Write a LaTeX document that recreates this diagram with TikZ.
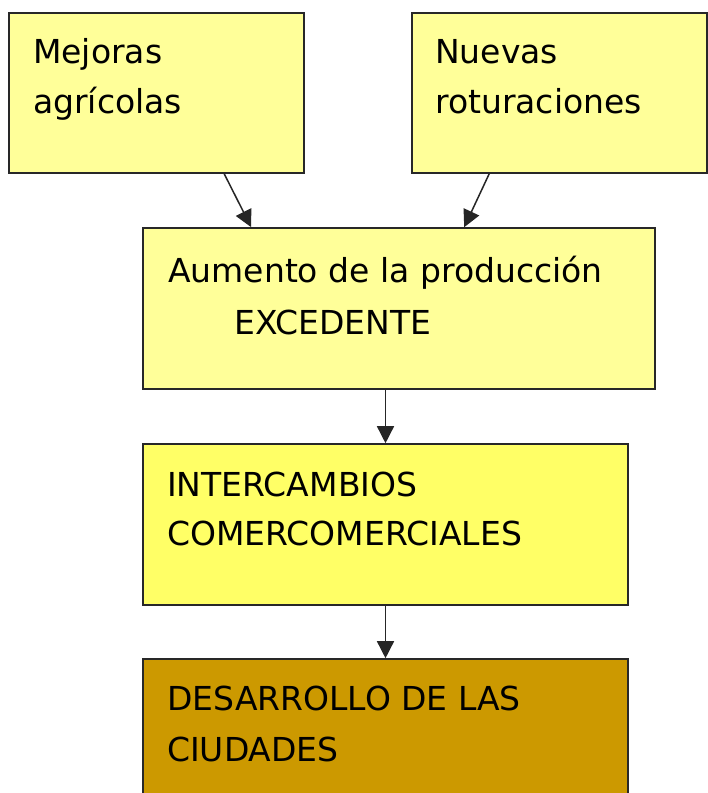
\documentclass[tikz,border=0pt]{standalone}
\usepackage{fontspec}
\setmainfont{DejaVu Sans}
\usetikzlibrary{arrows.meta,calc}
\definecolor{paleyellow}{RGB}{255,255,153}
\definecolor{brightyellow}{RGB}{255,255,102}
\definecolor{ochre}{RGB}{204,153,0}
\definecolor{edge}{RGB}{40,40,40}
\tikzset{
  box/.style={draw=edge, line width=1.6pt, rectangle, inner sep=0pt},
  txt/.style={anchor=base west, inner sep=0pt, font=\fontsize{33}{40}\selectfont, text=black},
  arr/.style={draw=black!85, line width=1.5pt, -{Triangle[length=17pt,width=17pt]}}
}
\begin{document}
\begin{tikzpicture}[x=1pt,y=-1pt]
\useasboundingbox (0,0) rectangle (708,793);
\fill[white] (0,0) rectangle (708,793);
\clip (0,0) rectangle (708,793);
\node[box, fill=paleyellow, minimum width=295pt, minimum height=160pt] (b1) at (156.5,93) {};
\node[box, fill=paleyellow, minimum width=295pt, minimum height=160pt] (b2) at (559.5,93) {};
\node[box, fill=paleyellow, minimum width=512pt, minimum height=161pt] (b3) at (399,308.5) {};
\node[box, fill=brightyellow, minimum width=485pt, minimum height=161pt] (b4) at (385.5,524.5) {};
\node[box, fill=ochre, minimum width=485pt, minimum height=161pt] (b5) at (385.5,739.5) {};

\node[txt] (t1a) at (33,63) {Mejoras};
\node[txt] (t1b) at (33,113) {agrícolas};
\node[txt] (t2a) at (435,63) {Nuevas};
\node[txt] (t2b) at (435,113) {roturaciones};
\node[txt] (t3a) at (168,282) {Aumento de la producción};
\node[txt] (t3b) at (234,334) {EXCEDENTE};
\node[txt] (t4a) at (167,496) {INTERCAMBIOS};
\node[txt] (t4b) at (167,545) {COMERCOMERCIALES};
\node[txt] (t5a) at (167,710) {DESARROLLO DE LAS};
\node[txt] (t5b) at (167,761) {CIUDADES};

\draw[arr] ($(b1.south west)+(216,0)$) -- ($(b3.north west)+(109,0)$);
\draw[arr] ($(b2.south west)+(78,0)$) -- ($(b3.north west)+(322,0)$);
\draw[arr] (b4.north |- b3.south) -- (b4.north);
\draw[arr] (b4.south) -- (b5.north);
\end{tikzpicture}
\end{document}
